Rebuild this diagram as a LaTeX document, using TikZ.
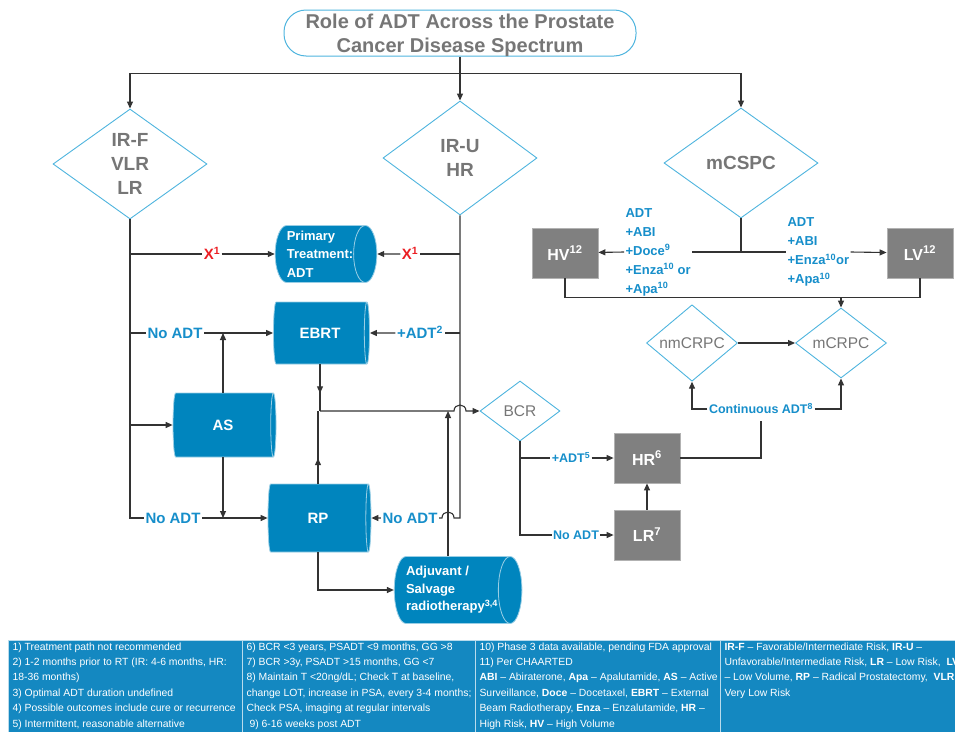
\documentclass[tikz,border=0pt]{standalone}
\usepackage{fontspec}
\setmainfont{Liberation Sans}
\usetikzlibrary{shapes.geometric,arrows.meta,calc,decorations.markings}

\definecolor{cylblue}{RGB}{0,133,190}
\definecolor{rimblue}{RGB}{78,180,222}
\definecolor{txtgray}{RGB}{118,118,118}
\definecolor{boxgray}{RGB}{128,128,128}
\definecolor{labblue}{RGB}{22,142,202}
\definecolor{notefill}{RGB}{20,136,193}
\definecolor{xred}{RGB}{235,30,35}

\begin{document}
\begin{tikzpicture}[x=1pt,y=-1pt,line width=1.1pt,color=black!80]
    \tikzset{
        risk/.style={diamond, draw=rimblue, line width=0.9pt, text=txtgray, align=center, inner sep=0pt, font=\bfseries\fontsize{19}{24}\selectfont},
        crpc/.style={diamond, draw=rimblue, line width=0.9pt, text=txtgray, inner sep=0pt, font=\fontsize{15.5}{18}\selectfont},
        tube/.style={cylinder, aspect=0.5, fill=cylblue, draw=white!60!cylblue, line width=0.8pt, text=white, align=left, inner sep=0pt, font=\bfseries\fontsize{15}{18}\selectfont},
        gbox/.style={rectangle, fill=boxgray, draw=black!30, line width=0.8pt, text=white, minimum width=66, minimum height=50, font=\bfseries\fontsize{16}{18}\selectfont},
        lab/.style={text=labblue, inner sep=1pt, text height=10.8pt, text depth=0pt, font=\bfseries\fontsize{15}{18}\selectfont},
        slab/.style={lab, text height=9pt, font=\bfseries\fontsize{12.5}{15}\selectfont},
        xlab/.style={lab, text=xred},
        glab/.style={text=labblue, align=left, inner sep=1pt, font=\bfseries\fontsize{13}{19}\selectfont},
        notebox/.style={rectangle, fill=notefill, draw=white!70!notefill, line width=1pt, anchor=north west},
        notetext/.style={text=white, align=left, inner sep=1pt, anchor=north west, font=\fontsize{10.4}{15.4}\selectfont},
        arc/.style={-{Triangle[length=7pt,width=6pt]}},
        flow/.style={postaction={decorate}, decoration={markings, mark=at position #1 with {\arrow{Triangle[length=7pt,width=6pt]}}}}
    }
    \useasboundingbox (0,0) rectangle (955,731);
    \clip (0,0) rectangle (955,731);

    \draw node[rectangle, rounded corners=22pt, draw=rimblue, line width=1pt, text=txtgray, align=center,
        minimum width=352, minimum height=46, inner sep=0pt, text depth=0pt, font=\bfseries\fontsize{20}{24}\selectfont]
        (title) at (460,33) {Role of ADT Across the Prostate\\Cancer Disease Spectrum};

    % risk groups
    \draw node[risk, minimum width=154, minimum height=110] (irf) at (130,164) {IR-F\\VLR\\LR};
    \draw node[risk, minimum width=154, minimum height=114] (iru) at (460,158) {IR-U\\HR};
    \draw node[risk, minimum width=154, minimum height=110] (mcspc) at (741,163) {mCSPC};

    % treatments (for the cylinder: height = length, width = diameter)
    \draw node[tube, minimum height=97, minimum width=57, font=\bfseries\fontsize{13}{18.5}\selectfont] (prim) at (320,254) {Primary\\Treatment:\\ADT};
    \draw node[tube, minimum height=96, minimum width=62] (ebrt) at (320,333) {EBRT};
    \draw node[tube, minimum height=103, minimum width=64] (as) at (223,425) {AS};
    \draw node[tube, minimum height=103, minimum width=68] (rp) at (318,518) {RP};
    \draw node[tube, minimum height=124, minimum width=67, font=\bfseries\fontsize{13}{17.5}\selectfont] (salv) at (452,590) {Adjuvant /\\Salvage\\radiotherapy\textsuperscript{3,4}};

    \draw node[crpc, minimum width=80, minimum height=60] (bcr) at (520,411) {BCR};
    \draw node[gbox] (hr) at (647,458) {HR\textsuperscript{6}};
    \draw node[gbox] (lr) at (647,535) {LR\textsuperscript{7}};
    \draw node[crpc, minimum width=91, minimum height=70] (nmcrpc) at (692,343) {nmCRPC};
    \draw node[crpc, minimum width=91, minimum height=70] (mcrpc) at (841,343) {mCRPC};
    \draw node[gbox] (hv) at (565,253) {HV\textsuperscript{12}};
    \draw node[gbox] (lv) at (920,253) {LV\textsuperscript{12}};

    % labels on the paths
    \node[xlab] (xl) at (212,254) {X\textsuperscript{1}};
    \node[xlab] (xr) at (410,254) {X\textsuperscript{1}};
    \node[lab] (noadtA) at (175,333) {No ADT};
    \node[lab] (adt2) at (420,333) {+ADT\textsuperscript{2}};
    \node[lab] (noadtB) at (173,518) {No ADT};
    \node[lab] (noadtC) at (410,518) {No ADT};
    \node[slab] (adt5) at (571,458) {+ADT\textsuperscript{5}};
    \node[slab] (noadtD) at (576,535) {No ADT};
    \node[slab] (cont) at (761,409) {Continuous ADT\textsuperscript{8}};
    \node[glab, anchor=west] (adthv) at (624,252) {ADT\\+ABI\\+Doce\textsuperscript{9}\\+Enza\textsuperscript{10} or\\+Apa\textsuperscript{10}};
    \node[glab, anchor=west] (adtlv) at (786,252) {ADT\\+ABI\\+Enza\textsuperscript{10}or\\+Apa\textsuperscript{10}};

    % from the title
    \coordinate (top) at ($(title.south)+(0,17)$);
    \draw (title.south) -- (top);
    \draw[arc] (top) -| (irf);
    \draw[arc] (top) -- (iru);
    \draw[arc] (top) -| (mcspc);

    % left branch
    \draw (irf.south) |- (noadtB);
    \draw[arc] (noadtB) -- (rp);
    \draw (irf.south |- prim) -- (xl);
    \draw[arc] (xl) -- (prim);
    \draw (irf.south |- noadtA) -- (noadtA);
    \draw[arc] (noadtA) -- (ebrt);
    \draw[arc] (irf.south |- as) -- (as);
    \draw[arc] (as.north) -- (as.north |- noadtA);
    \draw[arc] (as.south) -- (as.south |- noadtB);

    % middle branch
    \coordinate (sa) at ($(salv.north)+(-4,0)$);
    \coordinate (hB) at (sa |- noadtC);
    \draw (iru.south) |- ($(hB)+(6,0)$) .. controls ($(hB)+(6,-8)$) and ($(hB)+(-6,-8)$) .. ($(hB)+(-6,0)$) -- (noadtC);
    \draw[arc] (noadtC) -- (rp);
    \draw (iru.south |- prim) -- (xr);
    \draw[arc] (xr) -- (prim);
    \draw (iru.south |- adt2) -- (adt2);
    \draw[arc] (adt2) -- (ebrt);

    % towards BCR
    \coordinate (hA) at (iru.south |- bcr);
    \draw[flow=0.62] (ebrt.south) -- (ebrt.south |- bcr);
    \draw[flow=0.35] (rp.north) -- (rp.north |- bcr);
    \draw[arc] (ebrt.south |- bcr) -- ($(hA)+(-6,0)$) .. controls ($(hA)+(-6,-8)$) and ($(hA)+(6,-8)$) .. ($(hA)+(6,0)$) -- (bcr);
    \draw[arc] (rp.south) |- (salv);
    \draw[arc] (sa) -- (sa |- bcr);

    \draw (bcr.south) |- (noadtD);
    \draw[arc] (noadtD) -- (lr);
    \draw (bcr.south |- adt5) -- (adt5);
    \draw[arc] (adt5) -- (hr);
    \draw[arc] (lr) -- (hr);
    \draw[shorten >=6pt] (hr.east) -| (cont.south);
    \draw[arc] (cont.west) -| (nmcrpc.south);
    \draw[arc] (cont.east) -| (mcrpc.south);
    \draw[arc] (nmcrpc) -- (mcrpc);

    % metastatic side
    \draw (mcspc.south) -- (mcspc.south |- adthv);
    \draw (adthv.east) -- (adtlv.west);
    \draw[arc] (adthv.west) -- (hv);
    \draw[arc] (adtlv.east) -- (lv);
    \draw (hv.south) -- ++(0,19) coordinate (hvb) -| (lv.south);
    \draw[arc] (hvb -| mcrpc.north) -- (mcrpc.north);

    % footnotes
    \draw node[notebox, minimum width=234, minimum height=105] (n1) at (8,640) {};
    \draw node[notebox, minimum width=233, minimum height=105] (n2) at (242,640) {};
    \draw node[notebox, minimum width=245, minimum height=105] (n3) at (475,640) {};
    \draw node[notebox, minimum width=245, minimum height=105] (n4) at (720,640) {};
    \node[notetext] (t1) at ($(n1.north west)+(3,1)$) {1) Treatment path not recommended\\2) 1-2 months prior to RT (IR: 4-6 months, HR:\\18-36 months)\\3) Optimal ADT duration undefined\\4) Possible outcomes include cure or recurrence\\5) Intermittent, reasonable alternative};
    \node[notetext] (t2) at ($(n2.north west)+(3,1)$) {6) BCR <3 years, PSADT <9 months, GG >8\\7) BCR >3y, PSADT >15 months, GG <7\\8) Maintain T <20ng/dL; Check T at baseline,\\change LOT, increase in PSA, every 3-4 months;\\Check PSA, imaging at regular intervals\\\hspace{3pt}9) 6-16 weeks post ADT};
    \node[notetext] (t3) at ($(n3.north west)+(3,1)$) {10) Phase 3 data available, pending FDA approval\\11) Per CHAARTED\\\textbf{ABI} – Abiraterone, \textbf{Apa} – Apalutamide, \textbf{AS} – Active\\Surveillance, \textbf{Doce} – Docetaxel, \textbf{EBRT} – External\\Beam Radiotherapy, \textbf{Enza} – Enzalutamide, \textbf{HR} –\\High Risk, \textbf{HV} – High Volume};
    \node[notetext] (t4) at ($(n4.north west)+(3,1)$) {\textbf{IR-F} – Favorable/Intermediate Risk, \textbf{IR-U} –\\Unfavorable/Intermediate Risk, \textbf{LR} – Low Risk,\ \ \textbf{LV}\\– Low Volume, \textbf{RP} – Radical Prostatectomy,\ \ \textbf{VLR} –\\Very Low Risk};
\end{tikzpicture}
\end{document}
